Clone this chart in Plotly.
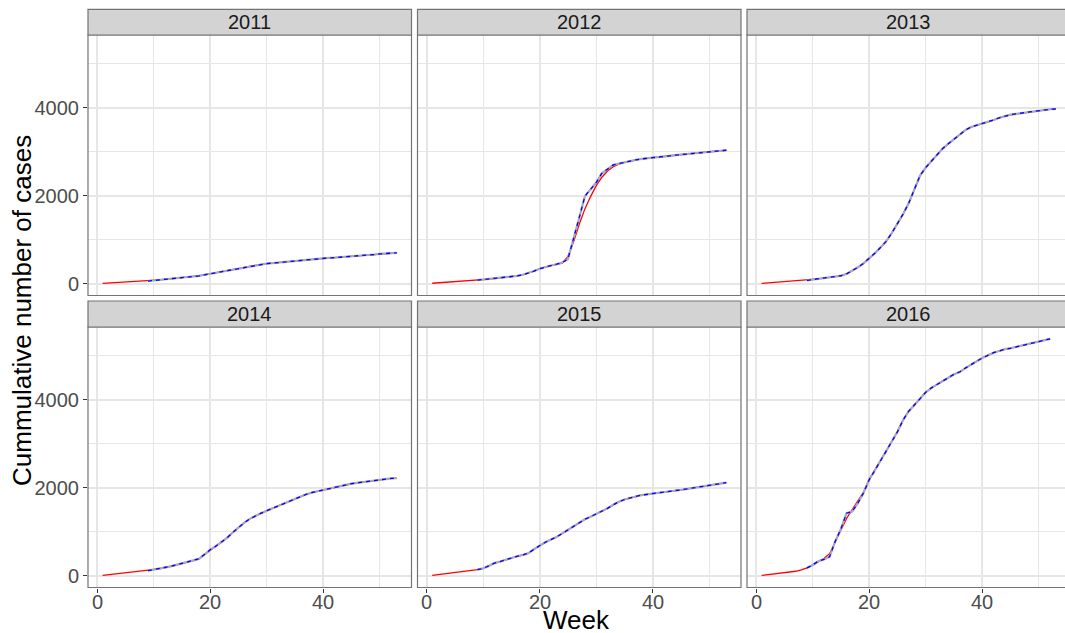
import plotly.graph_objects as go

# ---------------- data ----------------
years = ["2011", "2012", "2013", "2014", "2015", "2016"]

weeks_53 = list(range(1, 54))
weeks_52 = list(range(1, 53))
obs_weeks_53 = list(range(9, 54))
obs_weeks_52 = list(range(9, 53))

red_2011 = [5, 12, 18, 24, 30, 36, 42, 50, 60, 72,
            85, 98, 108, 118, 128, 138, 155, 175, 200, 225,
            248, 270, 292, 315, 340, 365, 392, 420, 440, 455,
            468, 480, 492, 505, 518, 528, 540, 552, 565, 578,
            585, 592, 600, 608, 618, 628, 640, 652, 662, 675,
            688, 698, 702]
blue_2011 = [60, 73, 86, 99, 110, 120, 130, 140, 156, 176,
             202, 226, 250, 270, 294, 316, 342, 366, 394, 422,
             441, 456, 468, 481, 493, 506, 518, 529, 541, 553,
             566, 578, 586, 593, 601, 609, 619, 629, 641, 652,
             663, 676, 689, 698, 702]

red_2012 = [10, 18, 26, 34, 42, 50, 58, 68, 80, 92,
            105, 118, 130, 143, 158, 175, 200, 235, 285, 340,
            380, 410, 440, 465, 620, 950, 1350, 1700, 1980, 2230,
            2420, 2560, 2660, 2720, 2760, 2790, 2815, 2835, 2852, 2867,
            2880, 2893, 2906, 2920, 2934, 2948, 2962, 2975, 2988, 3000,
            3012, 3024, 3034]
blue_2012 = [80, 93, 106, 118, 131, 144, 160, 176, 202, 236,
             286, 340, 382, 412, 442, 480, 560, 1000, 1500, 1990,
             2150, 2300, 2510, 2610, 2700, 2730, 2762, 2791, 2816, 2836,
             2853, 2868, 2881, 2894, 2907, 2921, 2935, 2949, 2963, 2976,
             2989, 3001, 3013, 3025, 3034]

red_2013 = [5, 15, 24, 32, 40, 48, 55, 64, 76, 92,
            110, 128, 145, 160, 178, 220, 290, 370, 460, 570,
            690, 820, 960, 1150, 1350, 1580, 1830, 2150, 2450, 2640,
            2780, 2930, 3070, 3180, 3290, 3390, 3490, 3560, 3600, 3630,
            3670, 3720, 3770, 3810, 3840, 3860, 3880, 3900, 3920, 3940,
            3955, 3965, 3972]
blue_2013 = [76, 93, 111, 129, 146, 161, 180, 222, 292, 372,
             462, 571, 692, 822, 962, 1152, 1352, 1582, 1832, 2160,
             2460, 2640, 2782, 2932, 3072, 3182, 3292, 3392, 3492, 3562,
             3602, 3632, 3672, 3722, 3772, 3812, 3842, 3862, 3882, 3902,
             3922, 3942, 3956, 3966, 3972]

red_2014 = [5, 20, 35, 50, 62, 75, 88, 100, 115, 135,
            155, 180, 210, 245, 280, 310, 340, 380, 480, 590,
            670, 760, 860, 980, 1100, 1200, 1290, 1360, 1420, 1475,
            1530, 1590, 1640, 1695, 1750, 1800, 1850, 1890, 1920, 1950,
            1980, 2010, 2040, 2070, 2090, 2110, 2130, 2150, 2165, 2180,
            2195, 2210, 2215]
blue_2014 = [116, 136, 156, 181, 211, 246, 281, 311, 341, 382,
             482, 591, 671, 761, 861, 981, 1101, 1201, 1291, 1361,
             1421, 1476, 1531, 1591, 1641, 1696, 1751, 1801, 1851, 1891,
             1921, 1951, 1981, 2011, 2041, 2071, 2091, 2111, 2131, 2151,
             2166, 2181, 2196, 2210, 2215]

red_2015 = [5, 20, 35, 48, 62, 75, 90, 110, 135, 165,
            220, 285, 320, 360, 410, 440, 470, 510, 600, 690,
            760, 820, 880, 960, 1040, 1120, 1210, 1280, 1340, 1400,
            1460, 1530, 1610, 1680, 1730, 1770, 1800, 1830, 1850, 1870,
            1890, 1905, 1920, 1935, 1950, 1970, 1995, 2020, 2040, 2060,
            2080, 2100, 2115]
blue_2015 = [136, 166, 222, 286, 321, 361, 411, 441, 471, 511,
             601, 691, 761, 821, 881, 961, 1041, 1121, 1211, 1281,
             1341, 1401, 1461, 1531, 1611, 1681, 1731, 1771, 1801, 1831,
             1851, 1871, 1891, 1906, 1921, 1936, 1951, 1971, 1996, 2021,
             2041, 2061, 2081, 2101, 2115]

red_2016 = [5, 20, 35, 50, 65, 82, 100, 130, 175, 240,
            320, 390, 500, 760, 1050, 1300, 1500, 1700, 1900, 2190,
            2400, 2600, 2820, 3050, 3280, 3540, 3740, 3880, 4030, 4170,
            4260, 4350, 4430, 4500, 4570, 4640, 4710, 4800, 4880, 4950,
            5010, 5070, 5110, 5150, 5180, 5200, 5230, 5260, 5290, 5320,
            5350, 5385]
blue_2016 = [176, 242, 330, 370, 430, 780, 1060, 1420, 1460, 1650,
             1880, 2180, 2390, 2610, 2810, 3060, 3270, 3540, 3740, 3880,
             4030, 4170, 4270, 4350, 4440, 4500, 4580, 4630, 4720, 4800,
             4880, 4950, 5010, 5070, 5110, 5150, 5170, 5200, 5230, 5260,
             5290, 5320, 5350, 5385]

red_series = [red_2011, red_2012, red_2013, red_2014, red_2015, red_2016]
blue_series = [blue_2011, blue_2012, blue_2013, blue_2014, blue_2015, blue_2016]
red_weeks = [weeks_53, weeks_53, weeks_53, weeks_53, weeks_53, weeks_52]
blue_weeks = [obs_weeks_53, obs_weeks_53, obs_weeks_53, obs_weeks_53, obs_weeks_53, obs_weeks_52]

x_ticks = [0, 20, 40]
x_tick_labels = ["0", "20", "40"]
y_ticks = [0, 2000, 4000]
y_tick_labels = ["0", "2000", "4000"]

x_title = "Week"
y_title = "Cummulative number of cases"

# ---------------- layout geometry (pixels) ----------------
W, H = 1065, 633
col_px = [(88.0, 411.5), (417.5, 741.0), (747.0, 1065.0)]
row_px = [(35.0, 295.5), (327.0, 587.5)]       # panel top, bottom
strip_px = [(9.3, 35.0), (301.0, 327.0)]
px_per_week = 323.5 / 57.2
x_lo = -1.6
y_range = [-269, 5654]

FONT = "Liberation Sans, Arial, Helvetica, sans-serif"
GRID = "#E6E6E6"
BORDER = "#333333"

fig = go.Figure()
layout = dict(
    width=W, height=H, margin=dict(l=0, r=0, t=0, b=0),
    paper_bgcolor="white", plot_bgcolor="white", showlegend=False,
    font=dict(family=FONT, color="#4D4D4D"),
)
shapes = []
annotations = []

for i, yr in enumerate(years):
    r, c = divmod(i, 3)
    x0p, x1p = col_px[c]
    t, b = row_px[r]
    xs = "" if i == 0 else str(i + 1)
    xa, ya = "xaxis" + xs, "yaxis" + xs
    x_hi = x_lo + (x1p - x0p) / px_per_week
    bottom_row = r == 1
    left_col = c == 0
    layout[xa] = dict(
        domain=[x0p / W, x1p / W], range=[x_lo, x_hi], anchor="y" + xs,
        tickvals=x_ticks, ticktext=x_tick_labels,
        showticklabels=False, ticks="outside" if bottom_row else "",
        ticklen=4, tickwidth=1.2, tickcolor=BORDER,
        showgrid=True, gridcolor=GRID, gridwidth=1.5, zeroline=False, showline=False,
        minor=dict(tickvals=[10, 30, 50], showgrid=True, gridcolor=GRID, gridwidth=0.8, ticks=""),
        fixedrange=True,
    )
    layout[ya] = dict(
        domain=[1 - b / H, 1 - t / H], range=y_range, anchor="x" + xs,
        tickvals=y_ticks, ticktext=y_tick_labels,
        showticklabels=left_col, ticks="outside" if left_col else "",
        ticklen=4, tickwidth=1.2, tickcolor=BORDER,
        tickfont=dict(size=20, color="#4D4D4D", family=FONT),
        showgrid=True, gridcolor=GRID, gridwidth=1.5, zeroline=False, showline=False,
        minor=dict(tickvals=[1000, 3000, 5000], showgrid=True, gridcolor=GRID, gridwidth=0.8, ticks=""),
        fixedrange=True,
    )
    # x tick labels of the bottom row, placed through the panel's own x axis
    if bottom_row:
        for tv, tl in zip(x_ticks, x_tick_labels):
            annotations.append(dict(text=tl, xref="x" + xs, x=tv, yref="paper",
                                    y=1 - 602 / H, xanchor="center", yanchor="middle",
                                    showarrow=False,
                                    font=dict(size=20, color="#4D4D4D", family=FONT)))
    # traces
    fig.add_trace(go.Scatter(x=red_weeks[i], y=red_series[i], mode="lines",
                             line=dict(color="#FF0000", width=1.3),
                             xaxis="x" + xs, yaxis="y" + xs, hoverinfo="skip"))
    fig.add_trace(go.Scatter(x=blue_weeks[i], y=blue_series[i], mode="lines",
                             line=dict(color="#A8A8BC", width=2.2),
                             xaxis="x" + xs, yaxis="y" + xs, hoverinfo="skip"))
    fig.add_trace(go.Scatter(x=blue_weeks[i], y=blue_series[i], mode="lines",
                             line=dict(color="#0000FF", width=1.3, dash="4px,4px"),
                             xaxis="x" + xs, yaxis="y" + xs, hoverinfo="skip"))
    # panel border (right edge of last column is cut by the image edge)
    bx1 = (x0p + 323.5) / W if c == 2 else x1p / W
    shapes.append(dict(type="rect", xref="paper", yref="paper",
                       x0=x0p / W, x1=bx1, y0=1 - b / H, y1=1 - t / H,
                       line=dict(color="#737373", width=1.2), fillcolor="rgba(0,0,0,0)",
                       layer="above"))
    # strip
    st, sb = strip_px[r]
    shapes.append(dict(type="rect", xref="paper", yref="paper",
                       x0=x0p / W, x1=bx1, y0=1 - sb / H, y1=1 - st / H,
                       line=dict(color="#737373", width=1.2), fillcolor="#D3D3D3",
                       layer="above"))
    annotations.append(dict(text=yr, xref="paper", yref="paper",
                            x=(x0p + 161.75) / W, y=1 - (st + sb) / 2 / H,
                            xanchor="center", yanchor="middle", showarrow=False,
                            font=dict(size=20, color="#1A1A1A", family=FONT)))

annotations.append(dict(text=x_title, xref="paper", yref="paper",
                        x=(88 + 1065) / 2 / W, y=1 - 620 / H,
                        xanchor="center", yanchor="middle", showarrow=False,
                        font=dict(size=26, color="black", family=FONT)))
annotations.append(dict(text=y_title, xref="paper", yref="paper",
                        x=22 / W, y=1 - 311 / H, textangle=-90,
                        xanchor="center", yanchor="middle", showarrow=False,
                        font=dict(size=26, color="black", family=FONT)))

layout["shapes"] = shapes
layout["annotations"] = annotations
fig.update_layout(**layout)
fig.write_html("out.html", config={"displayModeBar": False},
               post_script="document.body.style.margin='0px';document.body.style.padding='0px';")
